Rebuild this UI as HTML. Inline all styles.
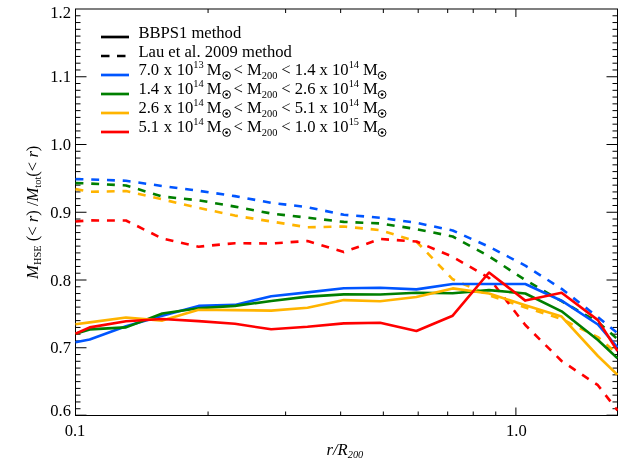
<!DOCTYPE html>
<html><head><meta charset="utf-8"><title>plot</title>
<style>
html,body{margin:0;padding:0;background:#fff;}
body{width:629px;height:472px;overflow:hidden;}
svg{display:block;will-change:transform;transform:translateZ(0);}
text{font-family:"Liberation Serif",serif;fill:#000;}
.t{font-size:16.6px;}
.s{font-size:10.4px;}
.i{font-style:italic;}
</style></head><body>
<svg width="629" height="472" viewBox="0 0 629 472">
<rect x="0" y="0" width="629" height="472" fill="#fff"/>
<defs><clipPath id="c"><rect x="75.0" y="9.0" width="543.0" height="407.0"/></clipPath></defs>

<g stroke="#000" stroke-width="1" fill="none">
<rect x="75.5" y="9.0" width="542.0" height="406.5"/>
<path d="M75.5 415.20h11M617.5 415.20h-11"/>
<path d="M75.5 408.73h5M617.5 408.73h-5"/>
<path d="M75.5 401.95h5M617.5 401.95h-5"/>
<path d="M75.5 395.17h5M617.5 395.17h-5"/>
<path d="M75.5 388.40h5M617.5 388.40h-5"/>
<path d="M75.5 381.62h5M617.5 381.62h-5"/>
<path d="M75.5 374.85h5M617.5 374.85h-5"/>
<path d="M75.5 368.08h5M617.5 368.08h-5"/>
<path d="M75.5 361.30h5M617.5 361.30h-5"/>
<path d="M75.5 354.53h5M617.5 354.53h-5"/>
<path d="M75.5 347.75h11M617.5 347.75h-11"/>
<path d="M75.5 340.98h5M617.5 340.98h-5"/>
<path d="M75.5 334.20h5M617.5 334.20h-5"/>
<path d="M75.5 327.43h5M617.5 327.43h-5"/>
<path d="M75.5 320.65h5M617.5 320.65h-5"/>
<path d="M75.5 313.88h5M617.5 313.88h-5"/>
<path d="M75.5 307.10h5M617.5 307.10h-5"/>
<path d="M75.5 300.32h5M617.5 300.32h-5"/>
<path d="M75.5 293.55h5M617.5 293.55h-5"/>
<path d="M75.5 286.77h5M617.5 286.77h-5"/>
<path d="M75.5 280.00h11M617.5 280.00h-11"/>
<path d="M75.5 273.23h5M617.5 273.23h-5"/>
<path d="M75.5 266.45h5M617.5 266.45h-5"/>
<path d="M75.5 259.68h5M617.5 259.68h-5"/>
<path d="M75.5 252.90h5M617.5 252.90h-5"/>
<path d="M75.5 246.12h5M617.5 246.12h-5"/>
<path d="M75.5 239.35h5M617.5 239.35h-5"/>
<path d="M75.5 232.57h5M617.5 232.57h-5"/>
<path d="M75.5 225.80h5M617.5 225.80h-5"/>
<path d="M75.5 219.03h5M617.5 219.03h-5"/>
<path d="M75.5 212.25h11M617.5 212.25h-11"/>
<path d="M75.5 205.48h5M617.5 205.48h-5"/>
<path d="M75.5 198.70h5M617.5 198.70h-5"/>
<path d="M75.5 191.93h5M617.5 191.93h-5"/>
<path d="M75.5 185.15h5M617.5 185.15h-5"/>
<path d="M75.5 178.38h5M617.5 178.38h-5"/>
<path d="M75.5 171.60h5M617.5 171.60h-5"/>
<path d="M75.5 164.83h5M617.5 164.83h-5"/>
<path d="M75.5 158.05h5M617.5 158.05h-5"/>
<path d="M75.5 151.27h5M617.5 151.27h-5"/>
<path d="M75.5 144.50h11M617.5 144.50h-11"/>
<path d="M75.5 137.72h5M617.5 137.72h-5"/>
<path d="M75.5 130.95h5M617.5 130.95h-5"/>
<path d="M75.5 124.17h5M617.5 124.17h-5"/>
<path d="M75.5 117.40h5M617.5 117.40h-5"/>
<path d="M75.5 110.62h5M617.5 110.62h-5"/>
<path d="M75.5 103.85h5M617.5 103.85h-5"/>
<path d="M75.5 97.07h5M617.5 97.07h-5"/>
<path d="M75.5 90.30h5M617.5 90.30h-5"/>
<path d="M75.5 83.53h5M617.5 83.53h-5"/>
<path d="M75.5 76.75h11M617.5 76.75h-11"/>
<path d="M75.5 69.98h5M617.5 69.98h-5"/>
<path d="M75.5 63.20h5M617.5 63.20h-5"/>
<path d="M75.5 56.43h5M617.5 56.43h-5"/>
<path d="M75.5 49.65h5M617.5 49.65h-5"/>
<path d="M75.5 42.88h5M617.5 42.88h-5"/>
<path d="M75.5 36.10h5M617.5 36.10h-5"/>
<path d="M75.5 29.33h5M617.5 29.33h-5"/>
<path d="M75.5 22.55h5M617.5 22.55h-5"/>
<path d="M75.5 15.78h5M617.5 15.78h-5"/>
<path d="M208.07 415.5v-4M208.07 9.0v4"/>
<path d="M285.62 415.5v-4M285.62 9.0v4"/>
<path d="M340.65 415.5v-4M340.65 9.0v4"/>
<path d="M383.33 415.5v-4M383.33 9.0v4"/>
<path d="M418.20 415.5v-4M418.20 9.0v4"/>
<path d="M447.68 415.5v-4M447.68 9.0v4"/>
<path d="M473.22 415.5v-4M473.22 9.0v4"/>
<path d="M495.75 415.5v-4M495.75 9.0v4"/>
<path d="M515.90 415.5v-8M515.90 9.0v8"/>
</g>
<g clip-path="url(#c)" fill="none" stroke-width="2.6" stroke-linejoin="round">
<polyline points="75.5,179.2 89.7,179.4 126.0,180.8 162.3,186.0 198.6,190.8 234.9,196.1 271.2,202.8 307.5,207.2 343.8,214.8 380.1,217.7 416.4,222.8 452.7,230.5 489.0,246.7 525.3,265.6 561.6,288.8 597.9,317.1 617.5,333.0" stroke="#0055ff" stroke-dasharray="7.9 7.85"/>
<polyline points="75.5,183.1 89.7,183.5 126.0,185.5 162.3,196.5 198.6,200.3 234.9,206.6 271.2,213.5 307.5,217.7 343.8,221.9 380.1,223.4 416.4,229.1 452.7,236.5 489.0,256.3 525.3,280.1 561.6,301.2 597.9,322.0 617.5,339.0" stroke="#007f00" stroke-dasharray="7.9 7.85"/>
<polyline points="75.5,189.1 89.7,191.8 126.0,191.1 162.3,199.4 198.6,207.9 234.9,215.6 271.2,221.5 307.5,227.3 343.8,226.5 380.1,230.1 416.4,241.5 452.7,279.3 489.0,295.2 525.3,307.5 561.6,319.0 597.9,337.1 617.5,354.0" stroke="#ffb400" stroke-dasharray="7.9 7.85"/>
<polyline points="75.5,221.5 89.7,220.4 126.0,220.5 162.3,238.5 198.6,246.7 234.9,243.2 271.2,243.5 307.5,241.0 343.8,252.1 380.1,239.0 416.4,241.5 452.7,256.8 489.0,277.9 525.3,325.0 561.6,361.0 597.9,385.2 617.5,410.5" stroke="#ff0000" stroke-dasharray="7.9 7.85"/>
<polyline points="75.5,342.3 89.7,339.5 126.0,326.2 162.3,315.8 198.6,305.9 234.9,304.9 271.2,296.3 307.5,292.4 343.8,288.2 380.1,287.8 416.4,289.4 452.7,284.0 489.0,284.0 525.3,284.0 561.6,300.7 597.9,324.5 617.5,347.5" stroke="#0055ff"/>
<polyline points="75.5,333.8 89.7,329.4 126.0,327.4 162.3,313.5 198.6,308.2 234.9,305.9 271.2,301.0 307.5,296.6 343.8,294.4 380.1,294.5 416.4,292.8 452.7,293.2 489.0,290.1 525.3,293.5 561.6,311.3 597.9,340.0 617.5,358.4" stroke="#007f00"/>
<polyline points="75.5,324.3 89.7,322.4 126.0,317.5 162.3,320.6 198.6,309.7 234.9,310.1 271.2,310.6 307.5,307.7 343.8,300.1 380.1,301.2 416.4,297.0 452.7,288.4 489.0,293.5 525.3,305.3 561.6,316.6 597.9,356.0 617.5,374.7" stroke="#ffb400"/>
<polyline points="75.5,333.8 89.7,327.4 126.0,321.3 162.3,319.0 198.6,321.1 234.9,323.8 271.2,329.3 307.5,326.8 343.8,323.4 380.1,322.7 416.4,331.0 452.7,315.7 489.0,272.5 525.3,300.6 561.6,292.7 597.9,320.1 617.5,351.0" stroke="#ff0000"/>
</g>
<text class="t" x="71.0" y="18.1" text-anchor="end">1.2</text>
<text class="t" x="71.0" y="82.2" text-anchor="end">1.1</text>
<text class="t" x="71.0" y="150.0" text-anchor="end">1.0</text>
<text class="t" x="71.0" y="217.7" text-anchor="end">0.9</text>
<text class="t" x="71.0" y="285.5" text-anchor="end">0.8</text>
<text class="t" x="71.0" y="353.2" text-anchor="end">0.7</text>
<text class="t" x="71.0" y="415.6" text-anchor="end">0.6</text>
<text class="t" x="75.0" y="436.3" text-anchor="middle">0.1</text>
<text class="t" x="516.4" y="436.3" text-anchor="middle">1.0</text>
<text class="t i" x="326.5" y="454.7">r/R<tspan class="s i" dy="3.5">200</tspan></text>
<text class="t" transform="translate(37.8 278.9) rotate(-90)"><tspan class="i">M</tspan><tspan class="s" dy="3.5">HSE</tspan><tspan dy="-3.5"> (&lt; </tspan><tspan class="i">r</tspan>) /<tspan class="i">M</tspan><tspan class="s" dy="3.5">tot</tspan><tspan dy="-3.5">(&lt; </tspan><tspan class="i">r</tspan>)</text>
<g stroke-width="2.7" fill="none">
<path d="M101 37H129" stroke="#000"/>
<path d="M101 56H129" stroke="#000" stroke-dasharray="8.5 7.5"/>
<path d="M101 75H129" stroke="#0055ff"/>
<path d="M101 94H129" stroke="#007f00"/>
<path d="M101 113H129" stroke="#ffb400"/>
<path d="M101 132H129" stroke="#ff0000"/>
</g>
<text class="t" x="138.4" y="37.9">BBPS1 method</text>
<text class="t" x="138.4" y="56.9">Lau et al. 2009 method</text>
<text class="t" x="138.4" y="75.3" word-spacing="0.45">7.0 x 10<tspan class="s" dy="-7.6">13</tspan></text>
<text class="t" x="206.7" y="75.3">M</text>
<circle cx="226.6" cy="75.55" r="3.85" fill="none" stroke="#000" stroke-width="1"/><circle cx="226.6" cy="75.55" r="1.4" fill="#000"/>
<text class="t" x="233.6" y="75.3">&lt; M<tspan class="s" dy="4">200</tspan></text>
<text class="t" x="281.2" y="75.3">&lt; 1.4 x 10<tspan class="s" dy="-7.6">14</tspan></text>
<text class="t" x="363.0" y="75.3">M</text>
<circle cx="382.1" cy="75.55" r="3.85" fill="none" stroke="#000" stroke-width="1"/><circle cx="382.1" cy="75.55" r="1.4" fill="#000"/>
<text class="t" x="138.4" y="94.3" word-spacing="0.45">1.4 x 10<tspan class="s" dy="-7.6">14</tspan></text>
<text class="t" x="206.7" y="94.3">M</text>
<circle cx="226.6" cy="94.55" r="3.85" fill="none" stroke="#000" stroke-width="1"/><circle cx="226.6" cy="94.55" r="1.4" fill="#000"/>
<text class="t" x="233.6" y="94.3">&lt; M<tspan class="s" dy="4">200</tspan></text>
<text class="t" x="281.2" y="94.3">&lt; 2.6 x 10<tspan class="s" dy="-7.6">14</tspan></text>
<text class="t" x="363.0" y="94.3">M</text>
<circle cx="382.1" cy="94.55" r="3.85" fill="none" stroke="#000" stroke-width="1"/><circle cx="382.1" cy="94.55" r="1.4" fill="#000"/>
<text class="t" x="138.4" y="113.3" word-spacing="0.45">2.6 x 10<tspan class="s" dy="-7.6">14</tspan></text>
<text class="t" x="206.7" y="113.3">M</text>
<circle cx="226.6" cy="113.55" r="3.85" fill="none" stroke="#000" stroke-width="1"/><circle cx="226.6" cy="113.55" r="1.4" fill="#000"/>
<text class="t" x="233.6" y="113.3">&lt; M<tspan class="s" dy="4">200</tspan></text>
<text class="t" x="281.2" y="113.3">&lt; 5.1 x 10<tspan class="s" dy="-7.6">14</tspan></text>
<text class="t" x="363.0" y="113.3">M</text>
<circle cx="382.1" cy="113.55" r="3.85" fill="none" stroke="#000" stroke-width="1"/><circle cx="382.1" cy="113.55" r="1.4" fill="#000"/>
<text class="t" x="138.4" y="132.3" word-spacing="0.45">5.1 x 10<tspan class="s" dy="-7.6">14</tspan></text>
<text class="t" x="206.7" y="132.3">M</text>
<circle cx="226.6" cy="132.55" r="3.85" fill="none" stroke="#000" stroke-width="1"/><circle cx="226.6" cy="132.55" r="1.4" fill="#000"/>
<text class="t" x="233.6" y="132.3">&lt; M<tspan class="s" dy="4">200</tspan></text>
<text class="t" x="281.2" y="132.3">&lt; 1.0 x 10<tspan class="s" dy="-7.6">15</tspan></text>
<text class="t" x="363.0" y="132.3">M</text>
<circle cx="382.1" cy="132.55" r="3.85" fill="none" stroke="#000" stroke-width="1"/><circle cx="382.1" cy="132.55" r="1.4" fill="#000"/>
</svg></body></html>
